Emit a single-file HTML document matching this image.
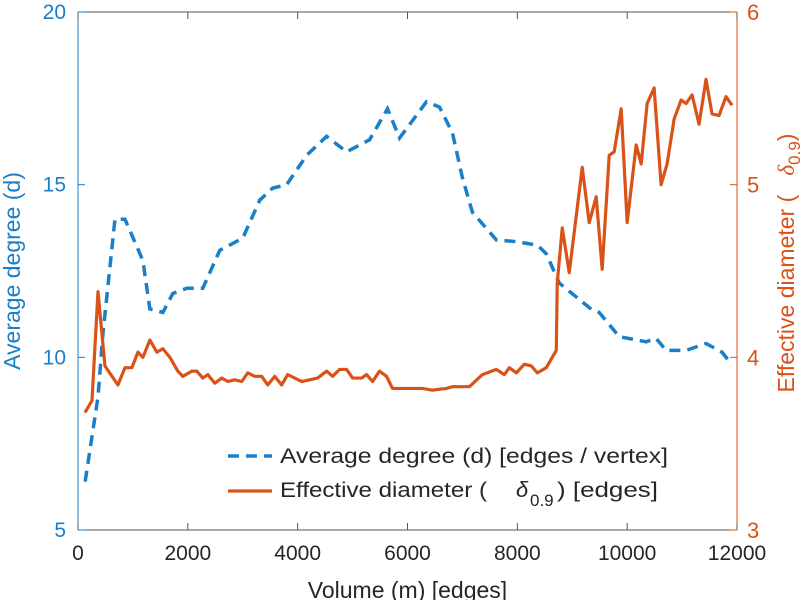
<!DOCTYPE html>
<html><head><meta charset="utf-8"><style>
body{margin:0;background:#fff}
svg text{font-family:"Liberation Sans",sans-serif}
</style></head><body>
<svg id="chart" width="812" height="600" xmlns="http://www.w3.org/2000/svg"></svg>
<script>
const xTicks=[0,2000,4000,6000,8000,10000,12000];
const leftTicks=[5,10,15,20];
const rightTicks=[3,4,5,6];
const degX=[130,364,455,673,855,1182,1309,1545,1727,1982,2273,2582,3000,3309,3545,3800,4164,4527,4891,5309,5636,5855,6345,6582,6818,7000,7182,7618,7982,8364,8527,8764,9364,9491,9855,10345,10527,10709,11073,11436,11727,11850];
const degY=[6.4,8.85,10.7,14.0,14.0,12.8,11.4,11.3,11.85,12.0,12.0,13.1,13.45,14.55,14.9,15.0,15.85,16.4,15.95,16.3,17.2,16.35,17.4,17.25,16.5,15.2,14.2,13.4,13.35,13.25,13.0,12.15,11.37,11.3,10.6,10.45,10.55,10.2,10.2,10.4,10.15,9.9];
const diaX=[127,255,364,491,727,855,982,1091,1182,1309,1436,1545,1673,1818,1909,2073,2164,2273,2364,2491,2618,2727,2855,2982,3091,3218,3345,3455,3582,3709,3818,4073,4364,4527,4636,4764,4891,5000,5164,5255,5364,5491,5618,5727,6273,6455,6709,6818,7127,7364,7618,7764,7855,7982,8127,8255,8364,8527,8709,8727,8818,8945,9182,9309,9436,9545,9673,9764,9891,10000,10164,10255,10364,10491,10618,10727,10855,10982,11073,11182,11309,11436,11545,11673,11800,11909];
const diaY=[3.68,3.75,4.38,3.95,3.84,3.94,3.94,4.03,4.0,4.1,4.03,4.05,4.0,3.92,3.89,3.92,3.92,3.88,3.9,3.85,3.88,3.86,3.87,3.86,3.91,3.89,3.89,3.84,3.89,3.84,3.9,3.86,3.88,3.92,3.89,3.93,3.93,3.88,3.88,3.9,3.86,3.92,3.89,3.82,3.82,3.81,3.82,3.83,3.83,3.9,3.93,3.9,3.94,3.91,3.96,3.95,3.91,3.94,4.04,4.43,4.75,4.49,5.1,4.78,4.93,4.51,5.17,5.19,5.44,4.78,5.23,5.12,5.47,5.56,5.0,5.12,5.38,5.49,5.47,5.52,5.35,5.61,5.41,5.4,5.51,5.46];
const L=78,R=737,T=12,B=530;
const sx=v=>L+(v-0)/12000*(R-L);
const syL=v=>B-(v-5)/15*(B-T);
const syR=v=>B-(v-3)/3*(B-T);
const svg=document.getElementById('chart');
const NS='http://www.w3.org/2000/svg';
function mk(tag,at,txt){const e=document.createElementNS(NS,tag);for(const k in at)e.setAttribute(k,at[k]);if(txt!==undefined)e.textContent=txt;svg.appendChild(e);return e;}
const BLUE='#1a7fc9',ORANGE='#d95319',GRAY='#262626';
let e=mk('line',{x1:L,y1:T,x2:R,y2:T,stroke:'#555','stroke-width':1});

e=mk('line',{x1:L,y1:B,x2:R,y2:B,stroke:'#555','stroke-width':1});

e=mk('line',{x1:L,y1:T,x2:L,y2:B,stroke:BLUE,'stroke-width':1});

e=mk('line',{x1:R,y1:T,x2:R,y2:B,stroke:ORANGE,'stroke-width':1});

xTicks.forEach(v=>{
 let t=mk('line',{x1:sx(v),y1:B,x2:sx(v),y2:B-7,stroke:'#555'});
 
 t=mk('line',{x1:sx(v),y1:T,x2:sx(v),y2:T+7,stroke:'#555'});
 
 t=mk('text',{x:sx(v),y:B+30,'text-anchor':'middle','font-size':21,fill:GRAY},v);
 
});
leftTicks.forEach(v=>{
 let t=mk('line',{x1:L,y1:syL(v),x2:L+7,y2:syL(v),stroke:BLUE});
 
 t=mk('text',{x:L-12,y:syL(v)+7,'text-anchor':'end','font-size':21,fill:BLUE},v);
 
});
rightTicks.forEach(v=>{
 let t=mk('line',{x1:R,y1:syR(v),x2:R-7,y2:syR(v),stroke:ORANGE});
 
 t=mk('text',{x:R+10,y:syR(v)+8,'text-anchor':'start','font-size':22,fill:ORANGE},v);
 
});
e=mk('text',{x:(L+R)/2,y:598,'text-anchor':'middle','font-size':23,fill:GRAY},'Volume (m) [edges]');

e=mk('text',{x:0,y:0,'text-anchor':'middle','font-size':23,fill:BLUE,transform:`translate(20,${(T+B)/2}) rotate(-90)`},'Average degree (d)');

e=mk('text',{x:0,y:0,'text-anchor':'middle','font-size':23,fill:ORANGE,transform:`translate(794,${(T+B)/2-8}) rotate(-90)`});

e.innerHTML='Effective diameter (\u00a0\u00a0\u00a0<tspan font-style="italic" font-family="Liberation Serif">δ</tspan><tspan font-size="17" dy="6">0.9</tspan><tspan dy="-6">)</tspan>';
const degPts=degX.map((x,i)=>sx(x)+','+syL(degY[i])).join(' ');
e=mk('polyline',{points:degPts,fill:'none',stroke:BLUE,'stroke-width':3.5,'stroke-dasharray':'11,7'});

const diaPts=diaX.map((x,i)=>sx(x)+','+syR(diaY[i])).join(' ');
e=mk('polyline',{points:diaPts,fill:'none',stroke:ORANGE,'stroke-width':3.2,'stroke-linejoin':'round'});

e=mk('line',{x1:228,y1:456,x2:272,y2:456,stroke:BLUE,'stroke-width':3.5,'stroke-dasharray':'11,7'});

e=mk('text',{x:280,y:463,'font-size':21,fill:GRAY,textLength:388,lengthAdjust:'spacingAndGlyphs'},'Average degree (d) [edges / vertex]');

e=mk('line',{x1:228,y1:491,x2:272,y2:491,stroke:ORANGE,'stroke-width':3.2});

e=mk('text',{x:280,y:497,'font-size':21,fill:GRAY,textLength:207,lengthAdjust:'spacingAndGlyphs'},'Effective diameter (');

e=mk('text',{x:516,y:497,'font-size':22,fill:GRAY,'font-style':'italic','font-family':'Liberation Serif'},'δ');

e=mk('text',{x:530,y:506,'font-size':17,fill:GRAY},'0.9');

e=mk('text',{x:557,y:497,'font-size':21,fill:GRAY,textLength:101,lengthAdjust:'spacingAndGlyphs'},') [edges]');

</script>
</body></html>
